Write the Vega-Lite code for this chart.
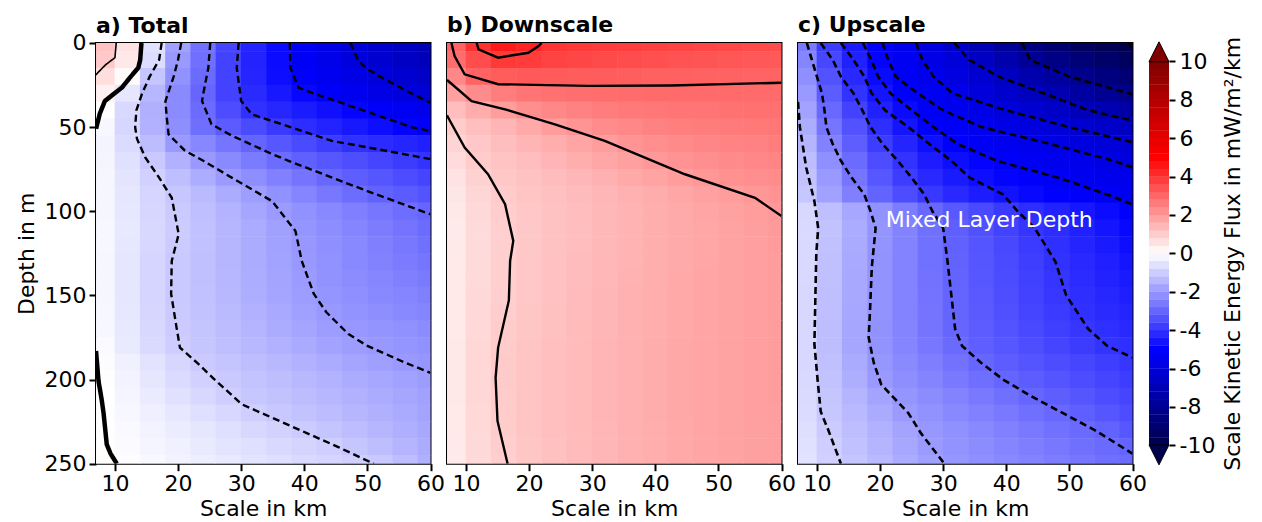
{
"$schema":"https://vega.github.io/schema/vega-lite/v6.json",
"background":"white",
"padding":{"left":14,"top":13,"right":5,"bottom":0},
"bounds":"flush",
"spacing":16,
"config":{
 "font":"DejaVu Sans",
 "view":{"stroke":"black","strokeWidth":2},
 "axis":{"grid":false,"domain":false,"tickColor":"black","tickWidth":2,"tickSize":7,"labelFont":"DejaVu Sans","labelFontSize":22,"labelColor":"black","labelPadding":3,"titleFont":"DejaVu Sans","titleFontSize":22,"titleFontWeight":"normal","titleColor":"black","labelFlush":false,"labelOverlap":false,"titlePadding":4},
 "title":{"font":"DejaVu Sans","fontSize":22,"fontWeight":"bold","anchor":"start","frame":"group","color":"black","offset":6}
},
"datasets":{
"a":[
{"x":8,"y":0,"v":1.2},{"x":12,"y":0,"v":0.55},{"x":16,"y":0,"v":-0.56},{"x":20,"y":0,"v":-1.84},{"x":24,"y":0,"v":-2.76},{"x":28,"y":0,"v":-3.64},{"x":32,"y":0,"v":-4.3},{"x":36,"y":0,"v":-4.79},{"x":40,"y":0,"v":-5.24},{"x":44,"y":0,"v":-5.66},{"x":48,"y":0,"v":-6.06},{"x":52,"y":0,"v":-6.37},{"x":56,"y":0,"v":-6.69},{"x":60,"y":0,"v":-7.0},
{"x":8,"y":10,"v":1.05},{"x":12,"y":10,"v":0.45},{"x":16,"y":10,"v":-0.67},{"x":20,"y":10,"v":-2.0},{"x":24,"y":10,"v":-2.8},{"x":28,"y":10,"v":-3.68},{"x":32,"y":10,"v":-4.31},{"x":36,"y":10,"v":-4.78},{"x":40,"y":10,"v":-5.21},{"x":44,"y":10,"v":-5.61},{"x":48,"y":10,"v":-5.96},{"x":52,"y":10,"v":-6.3},{"x":56,"y":10,"v":-6.65},{"x":60,"y":10,"v":-6.9},
{"x":8,"y":20,"v":0.65},{"x":12,"y":20,"v":0.07},{"x":16,"y":20,"v":-1.13},{"x":20,"y":20,"v":-2.13},{"x":24,"y":20,"v":-2.9},{"x":28,"y":20,"v":-3.7},{"x":32,"y":20,"v":-4.28},{"x":36,"y":20,"v":-4.74},{"x":40,"y":20,"v":-5.12},{"x":44,"y":20,"v":-5.42},{"x":48,"y":20,"v":-5.71},{"x":52,"y":20,"v":-6.0},{"x":56,"y":20,"v":-6.3},{"x":60,"y":20,"v":-6.6},
{"x":8,"y":30,"v":0.27},{"x":12,"y":30,"v":-0.49},{"x":16,"y":30,"v":-1.41},{"x":20,"y":30,"v":-2.29},{"x":24,"y":30,"v":-3.0},{"x":28,"y":30,"v":-3.68},{"x":32,"y":30,"v":-4.18},{"x":36,"y":30,"v":-4.53},{"x":40,"y":30,"v":-4.87},{"x":44,"y":30,"v":-5.16},{"x":48,"y":30,"v":-5.42},{"x":52,"y":30,"v":-5.68},{"x":56,"y":30,"v":-5.94},{"x":60,"y":30,"v":-6.2},
{"x":8,"y":40,"v":0.0},{"x":12,"y":40,"v":-0.74},{"x":16,"y":40,"v":-1.54},{"x":20,"y":40,"v":-2.28},{"x":24,"y":40,"v":-2.91},{"x":28,"y":40,"v":-3.49},{"x":32,"y":40,"v":-4.03},{"x":36,"y":40,"v":-4.25},{"x":40,"y":40,"v":-4.47},{"x":44,"y":40,"v":-4.69},{"x":48,"y":40,"v":-4.92},{"x":52,"y":40,"v":-5.14},{"x":56,"y":40,"v":-5.37},{"x":60,"y":40,"v":-5.6},
{"x":8,"y":50,"v":-0.16},{"x":12,"y":50,"v":-0.81},{"x":16,"y":50,"v":-1.53},{"x":20,"y":50,"v":-2.22},{"x":24,"y":50,"v":-2.82},{"x":28,"y":50,"v":-3.22},{"x":32,"y":50,"v":-3.54},{"x":36,"y":50,"v":-3.86},{"x":40,"y":50,"v":-4.11},{"x":44,"y":50,"v":-4.32},{"x":48,"y":50,"v":-4.53},{"x":52,"y":50,"v":-4.74},{"x":56,"y":50,"v":-4.95},{"x":60,"y":50,"v":-5.15},
{"x":8,"y":60,"v":-0.22},{"x":12,"y":60,"v":-0.7},{"x":16,"y":60,"v":-1.31},{"x":20,"y":60,"v":-2.0},{"x":24,"y":60,"v":-2.35},{"x":28,"y":60,"v":-2.7},{"x":32,"y":60,"v":-3.03},{"x":36,"y":60,"v":-3.29},{"x":40,"y":60,"v":-3.55},{"x":44,"y":60,"v":-3.81},{"x":48,"y":60,"v":-4.03},{"x":52,"y":60,"v":-4.15},{"x":56,"y":60,"v":-4.28},{"x":60,"y":60,"v":-4.4},
{"x":8,"y":70,"v":-0.2},{"x":12,"y":70,"v":-0.6},{"x":16,"y":70,"v":-1.06},{"x":20,"y":70,"v":-1.53},{"x":24,"y":70,"v":-2.0},{"x":28,"y":70,"v":-2.3},{"x":32,"y":70,"v":-2.59},{"x":36,"y":70,"v":-2.89},{"x":40,"y":70,"v":-3.11},{"x":44,"y":70,"v":-3.29},{"x":48,"y":70,"v":-3.47},{"x":52,"y":70,"v":-3.64},{"x":56,"y":70,"v":-3.82},{"x":60,"y":70,"v":-4.0},
{"x":8,"y":80,"v":-0.18},{"x":12,"y":80,"v":-0.53},{"x":16,"y":80,"v":-0.9},{"x":20,"y":80,"v":-1.26},{"x":24,"y":80,"v":-1.61},{"x":28,"y":80,"v":-1.96},{"x":32,"y":80,"v":-2.22},{"x":36,"y":80,"v":-2.47},{"x":40,"y":80,"v":-2.72},{"x":44,"y":80,"v":-2.97},{"x":48,"y":80,"v":-3.15},{"x":52,"y":80,"v":-3.32},{"x":56,"y":80,"v":-3.49},{"x":60,"y":80,"v":-3.65},
{"x":8,"y":90,"v":-0.17},{"x":12,"y":90,"v":-0.5},{"x":16,"y":90,"v":-0.83},{"x":20,"y":90,"v":-1.09},{"x":24,"y":90,"v":-1.36},{"x":28,"y":90,"v":-1.63},{"x":32,"y":90,"v":-1.9},{"x":36,"y":90,"v":-2.15},{"x":40,"y":90,"v":-2.39},{"x":44,"y":90,"v":-2.64},{"x":48,"y":90,"v":-2.88},{"x":52,"y":90,"v":-3.07},{"x":56,"y":90,"v":-3.21},{"x":60,"y":90,"v":-3.35},
{"x":8,"y":100,"v":-0.17},{"x":12,"y":100,"v":-0.48},{"x":16,"y":100,"v":-0.8},{"x":20,"y":100,"v":-1.03},{"x":24,"y":100,"v":-1.26},{"x":28,"y":100,"v":-1.5},{"x":32,"y":100,"v":-1.74},{"x":36,"y":100,"v":-1.97},{"x":40,"y":100,"v":-2.16},{"x":44,"y":100,"v":-2.33},{"x":48,"y":100,"v":-2.51},{"x":52,"y":100,"v":-2.69},{"x":56,"y":100,"v":-2.87},{"x":60,"y":100,"v":-3.0},
{"x":8,"y":110,"v":-0.16},{"x":12,"y":110,"v":-0.46},{"x":16,"y":110,"v":-0.77},{"x":20,"y":110,"v":-1.0},{"x":24,"y":110,"v":-1.22},{"x":28,"y":110,"v":-1.43},{"x":32,"y":110,"v":-1.65},{"x":36,"y":110,"v":-1.87},{"x":40,"y":110,"v":-2.07},{"x":44,"y":110,"v":-2.23},{"x":48,"y":110,"v":-2.4},{"x":52,"y":110,"v":-2.57},{"x":56,"y":110,"v":-2.73},{"x":60,"y":110,"v":-2.9},
{"x":8,"y":120,"v":-0.16},{"x":12,"y":120,"v":-0.47},{"x":16,"y":120,"v":-0.78},{"x":20,"y":120,"v":-1.02},{"x":24,"y":120,"v":-1.22},{"x":28,"y":120,"v":-1.43},{"x":32,"y":120,"v":-1.63},{"x":36,"y":120,"v":-1.84},{"x":40,"y":120,"v":-2.03},{"x":44,"y":120,"v":-2.19},{"x":48,"y":120,"v":-2.34},{"x":52,"y":120,"v":-2.5},{"x":56,"y":120,"v":-2.65},{"x":60,"y":120,"v":-2.8},
{"x":8,"y":130,"v":-0.17},{"x":12,"y":130,"v":-0.5},{"x":16,"y":130,"v":-0.82},{"x":20,"y":130,"v":-1.05},{"x":24,"y":130,"v":-1.24},{"x":28,"y":130,"v":-1.44},{"x":32,"y":130,"v":-1.63},{"x":36,"y":130,"v":-1.83},{"x":40,"y":130,"v":-2.02},{"x":44,"y":130,"v":-2.16},{"x":48,"y":130,"v":-2.31},{"x":52,"y":130,"v":-2.45},{"x":56,"y":130,"v":-2.58},{"x":60,"y":130,"v":-2.7},
{"x":8,"y":140,"v":-0.17},{"x":12,"y":140,"v":-0.5},{"x":16,"y":140,"v":-0.83},{"x":20,"y":140,"v":-1.05},{"x":24,"y":140,"v":-1.24},{"x":28,"y":140,"v":-1.42},{"x":32,"y":140,"v":-1.61},{"x":36,"y":140,"v":-1.79},{"x":40,"y":140,"v":-1.98},{"x":44,"y":140,"v":-2.13},{"x":48,"y":140,"v":-2.26},{"x":52,"y":140,"v":-2.38},{"x":56,"y":140,"v":-2.49},{"x":60,"y":140,"v":-2.6},
{"x":8,"y":150,"v":-0.17},{"x":12,"y":150,"v":-0.5},{"x":16,"y":150,"v":-0.83},{"x":20,"y":150,"v":-1.05},{"x":24,"y":150,"v":-1.22},{"x":28,"y":150,"v":-1.4},{"x":32,"y":150,"v":-1.58},{"x":36,"y":150,"v":-1.76},{"x":40,"y":150,"v":-1.93},{"x":44,"y":150,"v":-2.08},{"x":48,"y":150,"v":-2.2},{"x":52,"y":150,"v":-2.31},{"x":56,"y":150,"v":-2.4},{"x":60,"y":150,"v":-2.5},
{"x":8,"y":160,"v":-0.16},{"x":12,"y":160,"v":-0.48},{"x":16,"y":160,"v":-0.8},{"x":20,"y":160,"v":-1.03},{"x":24,"y":160,"v":-1.2},{"x":28,"y":160,"v":-1.36},{"x":32,"y":160,"v":-1.53},{"x":36,"y":160,"v":-1.69},{"x":40,"y":160,"v":-1.86},{"x":44,"y":160,"v":-2.02},{"x":48,"y":160,"v":-2.12},{"x":52,"y":160,"v":-2.22},{"x":56,"y":160,"v":-2.31},{"x":60,"y":160,"v":-2.4},
{"x":8,"y":170,"v":-0.15},{"x":12,"y":170,"v":-0.45},{"x":16,"y":170,"v":-0.76},{"x":20,"y":170,"v":-1.01},{"x":24,"y":170,"v":-1.16},{"x":28,"y":170,"v":-1.31},{"x":32,"y":170,"v":-1.47},{"x":36,"y":170,"v":-1.62},{"x":40,"y":170,"v":-1.77},{"x":44,"y":170,"v":-1.92},{"x":48,"y":170,"v":-2.03},{"x":52,"y":170,"v":-2.1},{"x":56,"y":170,"v":-2.18},{"x":60,"y":170,"v":-2.25},
{"x":8,"y":180,"v":-0.1},{"x":12,"y":180,"v":-0.42},{"x":16,"y":180,"v":-0.72},{"x":20,"y":180,"v":-0.98},{"x":24,"y":180,"v":-1.12},{"x":28,"y":180,"v":-1.26},{"x":32,"y":180,"v":-1.39},{"x":36,"y":180,"v":-1.53},{"x":40,"y":180,"v":-1.66},{"x":44,"y":180,"v":-1.8},{"x":48,"y":180,"v":-1.93},{"x":52,"y":180,"v":-2.02},{"x":56,"y":180,"v":-2.08},{"x":60,"y":180,"v":-2.15},
{"x":8,"y":190,"v":-0.05},{"x":12,"y":190,"v":-0.3},{"x":16,"y":190,"v":-0.55},{"x":20,"y":190,"v":-0.8},{"x":24,"y":190,"v":-1.03},{"x":28,"y":190,"v":-1.15},{"x":32,"y":190,"v":-1.27},{"x":36,"y":190,"v":-1.39},{"x":40,"y":190,"v":-1.52},{"x":44,"y":190,"v":-1.64},{"x":48,"y":190,"v":-1.76},{"x":52,"y":190,"v":-1.88},{"x":56,"y":190,"v":-2.0},{"x":60,"y":190,"v":-2.05},
{"x":8,"y":200,"v":-0.02},{"x":12,"y":200,"v":-0.24},{"x":16,"y":200,"v":-0.5},{"x":20,"y":200,"v":-0.7},{"x":24,"y":200,"v":-0.9},{"x":28,"y":200,"v":-1.06},{"x":32,"y":200,"v":-1.17},{"x":36,"y":200,"v":-1.28},{"x":40,"y":200,"v":-1.39},{"x":44,"y":200,"v":-1.51},{"x":48,"y":200,"v":-1.62},{"x":52,"y":200,"v":-1.73},{"x":56,"y":200,"v":-1.84},{"x":60,"y":200,"v":-1.95},
{"x":8,"y":210,"v":0.0},{"x":12,"y":210,"v":-0.2},{"x":16,"y":210,"v":-0.39},{"x":20,"y":210,"v":-0.58},{"x":24,"y":210,"v":-0.77},{"x":28,"y":210,"v":-0.97},{"x":32,"y":210,"v":-1.09},{"x":36,"y":210,"v":-1.2},{"x":40,"y":210,"v":-1.31},{"x":44,"y":210,"v":-1.42},{"x":48,"y":210,"v":-1.52},{"x":52,"y":210,"v":-1.63},{"x":56,"y":210,"v":-1.74},{"x":60,"y":210,"v":-1.85},
{"x":8,"y":220,"v":0.01},{"x":12,"y":220,"v":-0.15},{"x":16,"y":220,"v":-0.31},{"x":20,"y":220,"v":-0.47},{"x":24,"y":220,"v":-0.63},{"x":28,"y":220,"v":-0.79},{"x":32,"y":220,"v":-0.95},{"x":36,"y":220,"v":-1.08},{"x":40,"y":220,"v":-1.2},{"x":44,"y":220,"v":-1.31},{"x":48,"y":220,"v":-1.43},{"x":52,"y":220,"v":-1.55},{"x":56,"y":220,"v":-1.66},{"x":60,"y":220,"v":-1.78},
{"x":8,"y":230,"v":0.02},{"x":12,"y":230,"v":-0.11},{"x":16,"y":230,"v":-0.24},{"x":20,"y":230,"v":-0.37},{"x":24,"y":230,"v":-0.5},{"x":28,"y":230,"v":-0.63},{"x":32,"y":230,"v":-0.76},{"x":36,"y":230,"v":-0.89},{"x":40,"y":230,"v":-1.02},{"x":44,"y":230,"v":-1.16},{"x":48,"y":230,"v":-1.29},{"x":52,"y":230,"v":-1.43},{"x":56,"y":230,"v":-1.56},{"x":60,"y":230,"v":-1.7},
{"x":8,"y":240,"v":0.04},{"x":12,"y":240,"v":-0.07},{"x":16,"y":240,"v":-0.19},{"x":20,"y":240,"v":-0.3},{"x":24,"y":240,"v":-0.41},{"x":28,"y":240,"v":-0.52},{"x":32,"y":240,"v":-0.63},{"x":36,"y":240,"v":-0.74},{"x":40,"y":240,"v":-0.85},{"x":44,"y":240,"v":-0.96},{"x":48,"y":240,"v":-1.11},{"x":52,"y":240,"v":-1.28},{"x":56,"y":240,"v":-1.45},{"x":60,"y":240,"v":-1.63},
{"x":8,"y":250,"v":0.05},{"x":12,"y":250,"v":-0.04},{"x":16,"y":250,"v":-0.14},{"x":20,"y":250,"v":-0.24},{"x":24,"y":250,"v":-0.34},{"x":28,"y":250,"v":-0.43},{"x":32,"y":250,"v":-0.53},{"x":36,"y":250,"v":-0.63},{"x":40,"y":250,"v":-0.73},{"x":44,"y":250,"v":-0.83},{"x":48,"y":250,"v":-0.93},{"x":52,"y":250,"v":-1.05},{"x":56,"y":250,"v":-1.3},{"x":60,"y":250,"v":-1.55}
],
"b":[
{"x":8,"y":0,"v":3.05},{"x":12,"y":0,"v":4.02},{"x":16,"y":0,"v":4.5},{"x":20,"y":0,"v":4.3},{"x":24,"y":0,"v":3.97},{"x":28,"y":0,"v":3.9},{"x":32,"y":0,"v":3.85},{"x":36,"y":0,"v":3.8},{"x":40,"y":0,"v":3.75},{"x":44,"y":0,"v":3.7},{"x":48,"y":0,"v":3.65},{"x":52,"y":0,"v":3.6},{"x":56,"y":0,"v":3.55},{"x":60,"y":0,"v":3.5},
{"x":8,"y":10,"v":2.85},{"x":12,"y":10,"v":3.5},{"x":16,"y":10,"v":3.9},{"x":20,"y":10,"v":3.85},{"x":24,"y":10,"v":3.7},{"x":28,"y":10,"v":3.62},{"x":32,"y":10,"v":3.55},{"x":36,"y":10,"v":3.5},{"x":40,"y":10,"v":3.45},{"x":44,"y":10,"v":3.4},{"x":48,"y":10,"v":3.35},{"x":52,"y":10,"v":3.32},{"x":56,"y":10,"v":3.28},{"x":60,"y":10,"v":3.25},
{"x":8,"y":20,"v":2.35},{"x":12,"y":20,"v":3.05},{"x":16,"y":20,"v":3.2},{"x":20,"y":20,"v":3.25},{"x":24,"y":20,"v":3.22},{"x":28,"y":20,"v":3.2},{"x":32,"y":20,"v":3.17},{"x":36,"y":20,"v":3.15},{"x":40,"y":20,"v":3.12},{"x":44,"y":20,"v":3.1},{"x":48,"y":20,"v":3.08},{"x":52,"y":20,"v":3.07},{"x":56,"y":20,"v":3.06},{"x":60,"y":20,"v":3.05},
{"x":8,"y":30,"v":1.85},{"x":12,"y":30,"v":2.25},{"x":16,"y":30,"v":2.55},{"x":20,"y":30,"v":2.73},{"x":24,"y":30,"v":2.8},{"x":28,"y":30,"v":2.84},{"x":32,"y":30,"v":2.87},{"x":36,"y":30,"v":2.89},{"x":40,"y":30,"v":2.9},{"x":44,"y":30,"v":2.91},{"x":48,"y":30,"v":2.91},{"x":52,"y":30,"v":2.92},{"x":56,"y":30,"v":2.92},{"x":60,"y":30,"v":2.92},
{"x":8,"y":40,"v":1.3},{"x":12,"y":40,"v":1.62},{"x":16,"y":40,"v":1.95},{"x":20,"y":40,"v":2.2},{"x":24,"y":40,"v":2.36},{"x":28,"y":40,"v":2.46},{"x":32,"y":40,"v":2.55},{"x":36,"y":40,"v":2.62},{"x":40,"y":40,"v":2.67},{"x":44,"y":40,"v":2.71},{"x":48,"y":40,"v":2.73},{"x":52,"y":40,"v":2.76},{"x":56,"y":40,"v":2.78},{"x":60,"y":40,"v":2.79},
{"x":8,"y":50,"v":1.0},{"x":12,"y":50,"v":1.25},{"x":16,"y":50,"v":1.46},{"x":20,"y":50,"v":1.69},{"x":24,"y":50,"v":1.92},{"x":28,"y":50,"v":2.1},{"x":32,"y":50,"v":2.25},{"x":36,"y":50,"v":2.36},{"x":40,"y":50,"v":2.45},{"x":44,"y":50,"v":2.52},{"x":48,"y":50,"v":2.56},{"x":52,"y":50,"v":2.6},{"x":56,"y":50,"v":2.62},{"x":60,"y":50,"v":2.68},
{"x":8,"y":60,"v":0.85},{"x":12,"y":60,"v":1.1},{"x":16,"y":60,"v":1.27},{"x":20,"y":60,"v":1.45},{"x":24,"y":60,"v":1.61},{"x":28,"y":60,"v":1.77},{"x":32,"y":60,"v":1.95},{"x":36,"y":60,"v":2.1},{"x":40,"y":60,"v":2.2},{"x":44,"y":60,"v":2.3},{"x":48,"y":60,"v":2.38},{"x":52,"y":60,"v":2.43},{"x":56,"y":60,"v":2.48},{"x":60,"y":60,"v":2.54},
{"x":8,"y":70,"v":0.7},{"x":12,"y":70,"v":1.02},{"x":16,"y":70,"v":1.17},{"x":20,"y":70,"v":1.3},{"x":24,"y":70,"v":1.45},{"x":28,"y":70,"v":1.58},{"x":32,"y":70,"v":1.72},{"x":36,"y":70,"v":1.87},{"x":40,"y":70,"v":2.02},{"x":44,"y":70,"v":2.12},{"x":48,"y":70,"v":2.22},{"x":52,"y":70,"v":2.3},{"x":56,"y":70,"v":2.35},{"x":60,"y":70,"v":2.4},
{"x":8,"y":80,"v":0.57},{"x":12,"y":80,"v":0.88},{"x":16,"y":80,"v":1.07},{"x":20,"y":80,"v":1.19},{"x":24,"y":80,"v":1.31},{"x":28,"y":80,"v":1.43},{"x":32,"y":80,"v":1.55},{"x":36,"y":80,"v":1.68},{"x":40,"y":80,"v":1.8},{"x":44,"y":80,"v":1.93},{"x":48,"y":80,"v":2.04},{"x":52,"y":80,"v":2.15},{"x":56,"y":80,"v":2.22},{"x":60,"y":80,"v":2.28},
{"x":8,"y":90,"v":0.5},{"x":12,"y":90,"v":0.8},{"x":16,"y":90,"v":1.02},{"x":20,"y":90,"v":1.13},{"x":24,"y":90,"v":1.23},{"x":28,"y":90,"v":1.33},{"x":32,"y":90,"v":1.43},{"x":36,"y":90,"v":1.53},{"x":40,"y":90,"v":1.63},{"x":44,"y":90,"v":1.74},{"x":48,"y":90,"v":1.84},{"x":52,"y":90,"v":1.94},{"x":56,"y":90,"v":2.04},{"x":60,"y":90,"v":2.12},
{"x":8,"y":100,"v":0.45},{"x":12,"y":100,"v":0.75},{"x":16,"y":100,"v":0.98},{"x":20,"y":100,"v":1.1},{"x":24,"y":100,"v":1.2},{"x":28,"y":100,"v":1.3},{"x":32,"y":100,"v":1.4},{"x":36,"y":100,"v":1.49},{"x":40,"y":100,"v":1.58},{"x":44,"y":100,"v":1.67},{"x":48,"y":100,"v":1.76},{"x":52,"y":100,"v":1.85},{"x":56,"y":100,"v":1.94},{"x":60,"y":100,"v":2.02},
{"x":8,"y":110,"v":0.42},{"x":12,"y":110,"v":0.72},{"x":16,"y":110,"v":0.95},{"x":20,"y":110,"v":1.08},{"x":24,"y":110,"v":1.2},{"x":28,"y":110,"v":1.3},{"x":32,"y":110,"v":1.4},{"x":36,"y":110,"v":1.5},{"x":40,"y":110,"v":1.58},{"x":44,"y":110,"v":1.67},{"x":48,"y":110,"v":1.75},{"x":52,"y":110,"v":1.83},{"x":56,"y":110,"v":1.91},{"x":60,"y":110,"v":1.98},
{"x":8,"y":120,"v":0.42},{"x":12,"y":120,"v":0.72},{"x":16,"y":120,"v":0.95},{"x":20,"y":120,"v":1.08},{"x":24,"y":120,"v":1.2},{"x":28,"y":120,"v":1.3},{"x":32,"y":120,"v":1.4},{"x":36,"y":120,"v":1.5},{"x":40,"y":120,"v":1.58},{"x":44,"y":120,"v":1.67},{"x":48,"y":120,"v":1.75},{"x":52,"y":120,"v":1.82},{"x":56,"y":120,"v":1.89},{"x":60,"y":120,"v":1.96},
{"x":8,"y":130,"v":0.42},{"x":12,"y":130,"v":0.72},{"x":16,"y":130,"v":0.96},{"x":20,"y":130,"v":1.09},{"x":24,"y":130,"v":1.21},{"x":28,"y":130,"v":1.31},{"x":32,"y":130,"v":1.41},{"x":36,"y":130,"v":1.5},{"x":40,"y":130,"v":1.59},{"x":44,"y":130,"v":1.67},{"x":48,"y":130,"v":1.75},{"x":52,"y":130,"v":1.82},{"x":56,"y":130,"v":1.89},{"x":60,"y":130,"v":1.95},
{"x":8,"y":140,"v":0.43},{"x":12,"y":140,"v":0.73},{"x":16,"y":140,"v":0.96},{"x":20,"y":140,"v":1.09},{"x":24,"y":140,"v":1.21},{"x":28,"y":140,"v":1.32},{"x":32,"y":140,"v":1.42},{"x":36,"y":140,"v":1.51},{"x":40,"y":140,"v":1.59},{"x":44,"y":140,"v":1.68},{"x":48,"y":140,"v":1.76},{"x":52,"y":140,"v":1.83},{"x":56,"y":140,"v":1.89},{"x":60,"y":140,"v":1.95},
{"x":8,"y":150,"v":0.43},{"x":12,"y":150,"v":0.74},{"x":16,"y":150,"v":0.97},{"x":20,"y":150,"v":1.1},{"x":24,"y":150,"v":1.22},{"x":28,"y":150,"v":1.33},{"x":32,"y":150,"v":1.43},{"x":36,"y":150,"v":1.52},{"x":40,"y":150,"v":1.6},{"x":44,"y":150,"v":1.68},{"x":48,"y":150,"v":1.76},{"x":52,"y":150,"v":1.83},{"x":56,"y":150,"v":1.89},{"x":60,"y":150,"v":1.94},
{"x":8,"y":160,"v":0.43},{"x":12,"y":160,"v":0.75},{"x":16,"y":160,"v":0.98},{"x":20,"y":160,"v":1.11},{"x":24,"y":160,"v":1.23},{"x":28,"y":160,"v":1.34},{"x":32,"y":160,"v":1.44},{"x":36,"y":160,"v":1.53},{"x":40,"y":160,"v":1.61},{"x":44,"y":160,"v":1.69},{"x":48,"y":160,"v":1.76},{"x":52,"y":160,"v":1.83},{"x":56,"y":160,"v":1.89},{"x":60,"y":160,"v":1.94},
{"x":8,"y":170,"v":0.44},{"x":12,"y":170,"v":0.76},{"x":16,"y":170,"v":1.0},{"x":20,"y":170,"v":1.12},{"x":24,"y":170,"v":1.24},{"x":28,"y":170,"v":1.35},{"x":32,"y":170,"v":1.44},{"x":36,"y":170,"v":1.53},{"x":40,"y":170,"v":1.61},{"x":44,"y":170,"v":1.69},{"x":48,"y":170,"v":1.77},{"x":52,"y":170,"v":1.83},{"x":56,"y":170,"v":1.88},{"x":60,"y":170,"v":1.93},
{"x":8,"y":180,"v":0.45},{"x":12,"y":180,"v":0.78},{"x":16,"y":180,"v":1.02},{"x":20,"y":180,"v":1.14},{"x":24,"y":180,"v":1.25},{"x":28,"y":180,"v":1.36},{"x":32,"y":180,"v":1.45},{"x":36,"y":180,"v":1.54},{"x":40,"y":180,"v":1.62},{"x":44,"y":180,"v":1.7},{"x":48,"y":180,"v":1.77},{"x":52,"y":180,"v":1.83},{"x":56,"y":180,"v":1.88},{"x":60,"y":180,"v":1.92},
{"x":8,"y":190,"v":0.45},{"x":12,"y":190,"v":0.78},{"x":16,"y":190,"v":1.03},{"x":20,"y":190,"v":1.15},{"x":24,"y":190,"v":1.26},{"x":28,"y":190,"v":1.36},{"x":32,"y":190,"v":1.45},{"x":36,"y":190,"v":1.54},{"x":40,"y":190,"v":1.62},{"x":44,"y":190,"v":1.7},{"x":48,"y":190,"v":1.77},{"x":52,"y":190,"v":1.83},{"x":56,"y":190,"v":1.88},{"x":60,"y":190,"v":1.92},
{"x":8,"y":200,"v":0.45},{"x":12,"y":200,"v":0.79},{"x":16,"y":200,"v":1.03},{"x":20,"y":200,"v":1.15},{"x":24,"y":200,"v":1.26},{"x":28,"y":200,"v":1.36},{"x":32,"y":200,"v":1.45},{"x":36,"y":200,"v":1.54},{"x":40,"y":200,"v":1.62},{"x":44,"y":200,"v":1.7},{"x":48,"y":200,"v":1.77},{"x":52,"y":200,"v":1.83},{"x":56,"y":200,"v":1.88},{"x":60,"y":200,"v":1.92},
{"x":8,"y":210,"v":0.45},{"x":12,"y":210,"v":0.78},{"x":16,"y":210,"v":1.02},{"x":20,"y":210,"v":1.14},{"x":24,"y":210,"v":1.25},{"x":28,"y":210,"v":1.36},{"x":32,"y":210,"v":1.45},{"x":36,"y":210,"v":1.54},{"x":40,"y":210,"v":1.62},{"x":44,"y":210,"v":1.7},{"x":48,"y":210,"v":1.77},{"x":52,"y":210,"v":1.83},{"x":56,"y":210,"v":1.88},{"x":60,"y":210,"v":1.92},
{"x":8,"y":220,"v":0.44},{"x":12,"y":220,"v":0.77},{"x":16,"y":220,"v":1.01},{"x":20,"y":220,"v":1.14},{"x":24,"y":220,"v":1.25},{"x":28,"y":220,"v":1.36},{"x":32,"y":220,"v":1.45},{"x":36,"y":220,"v":1.54},{"x":40,"y":220,"v":1.62},{"x":44,"y":220,"v":1.7},{"x":48,"y":220,"v":1.77},{"x":52,"y":220,"v":1.83},{"x":56,"y":220,"v":1.88},{"x":60,"y":220,"v":1.91},
{"x":8,"y":230,"v":0.43},{"x":12,"y":230,"v":0.76},{"x":16,"y":230,"v":1.0},{"x":20,"y":230,"v":1.13},{"x":24,"y":230,"v":1.25},{"x":28,"y":230,"v":1.35},{"x":32,"y":230,"v":1.44},{"x":36,"y":230,"v":1.53},{"x":40,"y":230,"v":1.61},{"x":44,"y":230,"v":1.69},{"x":48,"y":230,"v":1.76},{"x":52,"y":230,"v":1.82},{"x":56,"y":230,"v":1.87},{"x":60,"y":230,"v":1.91},
{"x":8,"y":240,"v":0.42},{"x":12,"y":240,"v":0.74},{"x":16,"y":240,"v":0.98},{"x":20,"y":240,"v":1.12},{"x":24,"y":240,"v":1.24},{"x":28,"y":240,"v":1.35},{"x":32,"y":240,"v":1.44},{"x":36,"y":240,"v":1.53},{"x":40,"y":240,"v":1.61},{"x":44,"y":240,"v":1.69},{"x":48,"y":240,"v":1.76},{"x":52,"y":240,"v":1.82},{"x":56,"y":240,"v":1.87},{"x":60,"y":240,"v":1.9},
{"x":8,"y":250,"v":0.4},{"x":12,"y":250,"v":0.72},{"x":16,"y":250,"v":0.96},{"x":20,"y":250,"v":1.11},{"x":24,"y":250,"v":1.23},{"x":28,"y":250,"v":1.34},{"x":32,"y":250,"v":1.43},{"x":36,"y":250,"v":1.52},{"x":40,"y":250,"v":1.6},{"x":44,"y":250,"v":1.68},{"x":48,"y":250,"v":1.75},{"x":52,"y":250,"v":1.81},{"x":56,"y":250,"v":1.86},{"x":60,"y":250,"v":1.89}
],
"c":[
{"x":8,"y":0,"v":-2.6},{"x":12,"y":0,"v":-3.8},{"x":16,"y":0,"v":-4.5},{"x":20,"y":0,"v":-5.1},{"x":24,"y":0,"v":-5.5},{"x":28,"y":0,"v":-5.85},{"x":32,"y":0,"v":-6.4},{"x":36,"y":0,"v":-7.1},{"x":40,"y":0,"v":-7.8},{"x":44,"y":0,"v":-8.5},{"x":48,"y":0,"v":-9.0},{"x":52,"y":0,"v":-9.4},{"x":56,"y":0,"v":-9.75},{"x":60,"y":0,"v":-10.0},
{"x":8,"y":10,"v":-2.4},{"x":12,"y":10,"v":-3.6},{"x":16,"y":10,"v":-4.35},{"x":20,"y":10,"v":-4.95},{"x":24,"y":10,"v":-5.35},{"x":28,"y":10,"v":-5.7},{"x":32,"y":10,"v":-6.1},{"x":36,"y":10,"v":-6.7},{"x":40,"y":10,"v":-7.3},{"x":44,"y":10,"v":-7.9},{"x":48,"y":10,"v":-8.4},{"x":52,"y":10,"v":-8.8},{"x":56,"y":10,"v":-9.2},{"x":60,"y":10,"v":-9.5},
{"x":8,"y":20,"v":-2.2},{"x":12,"y":20,"v":-3.4},{"x":16,"y":20,"v":-4.2},{"x":20,"y":20,"v":-4.8},{"x":24,"y":20,"v":-5.2},{"x":28,"y":20,"v":-5.5},{"x":32,"y":20,"v":-5.85},{"x":36,"y":20,"v":-6.3},{"x":40,"y":20,"v":-6.8},{"x":44,"y":20,"v":-7.3},{"x":48,"y":20,"v":-7.75},{"x":52,"y":20,"v":-8.2},{"x":56,"y":20,"v":-8.6},{"x":60,"y":20,"v":-8.9},
{"x":8,"y":30,"v":-2.0},{"x":12,"y":30,"v":-3.2},{"x":16,"y":30,"v":-4.0},{"x":20,"y":30,"v":-4.6},{"x":24,"y":30,"v":-5.0},{"x":28,"y":30,"v":-5.3},{"x":32,"y":30,"v":-5.6},{"x":36,"y":30,"v":-6.0},{"x":40,"y":30,"v":-6.4},{"x":44,"y":30,"v":-6.8},{"x":48,"y":30,"v":-7.2},{"x":52,"y":30,"v":-7.6},{"x":56,"y":30,"v":-8.0},{"x":60,"y":30,"v":-8.3},
{"x":8,"y":40,"v":-1.8},{"x":12,"y":40,"v":-2.95},{"x":16,"y":40,"v":-3.7},{"x":20,"y":40,"v":-4.35},{"x":24,"y":40,"v":-4.8},{"x":28,"y":40,"v":-5.15},{"x":32,"y":40,"v":-5.4},{"x":36,"y":40,"v":-5.7},{"x":40,"y":40,"v":-6.0},{"x":44,"y":40,"v":-6.3},{"x":48,"y":40,"v":-6.6},{"x":52,"y":40,"v":-6.9},{"x":56,"y":40,"v":-7.2},{"x":60,"y":40,"v":-7.5},
{"x":8,"y":50,"v":-1.6},{"x":12,"y":50,"v":-2.7},{"x":16,"y":50,"v":-3.4},{"x":20,"y":50,"v":-4.1},{"x":24,"y":50,"v":-4.6},{"x":28,"y":50,"v":-5.0},{"x":32,"y":50,"v":-5.2},{"x":36,"y":50,"v":-5.45},{"x":40,"y":50,"v":-5.7},{"x":44,"y":50,"v":-5.9},{"x":48,"y":50,"v":-6.1},{"x":52,"y":50,"v":-6.3},{"x":56,"y":50,"v":-6.5},{"x":60,"y":50,"v":-6.7},
{"x":8,"y":60,"v":-1.45},{"x":12,"y":60,"v":-2.45},{"x":16,"y":60,"v":-3.15},{"x":20,"y":60,"v":-3.8},{"x":24,"y":60,"v":-4.3},{"x":28,"y":60,"v":-4.7},{"x":32,"y":60,"v":-5.0},{"x":36,"y":60,"v":-5.2},{"x":40,"y":60,"v":-5.4},{"x":44,"y":60,"v":-5.6},{"x":48,"y":60,"v":-5.75},{"x":52,"y":60,"v":-5.9},{"x":56,"y":60,"v":-6.05},{"x":60,"y":60,"v":-6.2},
{"x":8,"y":70,"v":-1.3},{"x":12,"y":70,"v":-2.2},{"x":16,"y":70,"v":-2.9},{"x":20,"y":70,"v":-3.5},{"x":24,"y":70,"v":-4.0},{"x":28,"y":70,"v":-4.45},{"x":32,"y":70,"v":-4.75},{"x":36,"y":70,"v":-4.95},{"x":40,"y":70,"v":-5.15},{"x":44,"y":70,"v":-5.3},{"x":48,"y":70,"v":-5.45},{"x":52,"y":70,"v":-5.6},{"x":56,"y":70,"v":-5.75},{"x":60,"y":70,"v":-5.9},
{"x":8,"y":80,"v":-1.2},{"x":12,"y":80,"v":-2.0},{"x":16,"y":80,"v":-2.7},{"x":20,"y":80,"v":-3.3},{"x":24,"y":80,"v":-3.8},{"x":28,"y":80,"v":-4.2},{"x":32,"y":80,"v":-4.5},{"x":36,"y":80,"v":-4.75},{"x":40,"y":80,"v":-4.95},{"x":44,"y":80,"v":-5.1},{"x":48,"y":80,"v":-5.25},{"x":52,"y":80,"v":-5.4},{"x":56,"y":80,"v":-5.5},{"x":60,"y":80,"v":-5.6},
{"x":8,"y":90,"v":-1.1},{"x":12,"y":90,"v":-1.85},{"x":16,"y":90,"v":-2.5},{"x":20,"y":90,"v":-3.05},{"x":24,"y":90,"v":-3.5},{"x":28,"y":90,"v":-3.9},{"x":32,"y":90,"v":-4.2},{"x":36,"y":90,"v":-4.45},{"x":40,"y":90,"v":-4.65},{"x":44,"y":90,"v":-4.85},{"x":48,"y":90,"v":-5.0},{"x":52,"y":90,"v":-5.15},{"x":56,"y":90,"v":-5.3},{"x":60,"y":90,"v":-5.4},
{"x":8,"y":100,"v":-0.78},{"x":12,"y":100,"v":-1.26},{"x":16,"y":100,"v":-1.72},{"x":20,"y":100,"v":-2.15},{"x":24,"y":100,"v":-2.56},{"x":28,"y":100,"v":-2.97},{"x":32,"y":100,"v":-3.27},{"x":36,"y":100,"v":-3.57},{"x":40,"y":100,"v":-3.87},{"x":44,"y":100,"v":-4.12},{"x":48,"y":100,"v":-4.34},{"x":52,"y":100,"v":-4.56},{"x":56,"y":100,"v":-4.78},{"x":60,"y":100,"v":-5.0},
{"x":8,"y":110,"v":-0.74},{"x":12,"y":110,"v":-1.2},{"x":16,"y":110,"v":-1.64},{"x":20,"y":110,"v":-2.07},{"x":24,"y":110,"v":-2.44},{"x":28,"y":110,"v":-2.81},{"x":32,"y":110,"v":-3.14},{"x":36,"y":110,"v":-3.41},{"x":40,"y":110,"v":-3.69},{"x":44,"y":110,"v":-3.97},{"x":48,"y":110,"v":-4.11},{"x":52,"y":110,"v":-4.35},{"x":56,"y":110,"v":-4.6},{"x":60,"y":110,"v":-4.85},
{"x":8,"y":120,"v":-0.74},{"x":12,"y":120,"v":-1.21},{"x":16,"y":120,"v":-1.67},{"x":20,"y":120,"v":-2.09},{"x":24,"y":120,"v":-2.43},{"x":28,"y":120,"v":-2.78},{"x":32,"y":120,"v":-3.09},{"x":36,"y":120,"v":-3.34},{"x":40,"y":120,"v":-3.59},{"x":44,"y":120,"v":-3.84},{"x":48,"y":120,"v":-4.07},{"x":52,"y":120,"v":-4.29},{"x":56,"y":120,"v":-4.5},{"x":60,"y":120,"v":-4.72},
{"x":8,"y":130,"v":-0.74},{"x":12,"y":130,"v":-1.23},{"x":16,"y":130,"v":-1.69},{"x":20,"y":130,"v":-2.11},{"x":24,"y":130,"v":-2.44},{"x":28,"y":130,"v":-2.78},{"x":32,"y":130,"v":-3.08},{"x":36,"y":130,"v":-3.31},{"x":40,"y":130,"v":-3.54},{"x":44,"y":130,"v":-3.78},{"x":48,"y":130,"v":-4.01},{"x":52,"y":130,"v":-4.2},{"x":56,"y":130,"v":-4.4},{"x":60,"y":130,"v":-4.6},
{"x":8,"y":140,"v":-0.75},{"x":12,"y":140,"v":-1.24},{"x":16,"y":140,"v":-1.7},{"x":20,"y":140,"v":-2.11},{"x":24,"y":140,"v":-2.43},{"x":28,"y":140,"v":-2.76},{"x":32,"y":140,"v":-3.06},{"x":36,"y":140,"v":-3.29},{"x":40,"y":140,"v":-3.51},{"x":44,"y":140,"v":-3.74},{"x":48,"y":140,"v":-3.97},{"x":52,"y":140,"v":-4.15},{"x":56,"y":140,"v":-4.33},{"x":60,"y":140,"v":-4.5},
{"x":8,"y":150,"v":-0.76},{"x":12,"y":150,"v":-1.25},{"x":16,"y":150,"v":-1.71},{"x":20,"y":150,"v":-2.12},{"x":24,"y":150,"v":-2.43},{"x":28,"y":150,"v":-2.74},{"x":32,"y":150,"v":-3.04},{"x":36,"y":150,"v":-3.26},{"x":40,"y":150,"v":-3.48},{"x":44,"y":150,"v":-3.7},{"x":48,"y":150,"v":-3.92},{"x":52,"y":150,"v":-4.1},{"x":56,"y":150,"v":-4.26},{"x":60,"y":150,"v":-4.42},
{"x":8,"y":160,"v":-0.77},{"x":12,"y":160,"v":-1.26},{"x":16,"y":160,"v":-1.72},{"x":20,"y":160,"v":-2.12},{"x":24,"y":160,"v":-2.43},{"x":28,"y":160,"v":-2.73},{"x":32,"y":160,"v":-3.03},{"x":36,"y":160,"v":-3.23},{"x":40,"y":160,"v":-3.44},{"x":44,"y":160,"v":-3.64},{"x":48,"y":160,"v":-3.85},{"x":52,"y":160,"v":-4.05},{"x":56,"y":160,"v":-4.17},{"x":60,"y":160,"v":-4.3},
{"x":8,"y":170,"v":-0.77},{"x":12,"y":170,"v":-1.28},{"x":16,"y":170,"v":-1.74},{"x":20,"y":170,"v":-2.13},{"x":24,"y":170,"v":-2.42},{"x":28,"y":170,"v":-2.72},{"x":32,"y":170,"v":-3.0},{"x":36,"y":170,"v":-3.19},{"x":40,"y":170,"v":-3.38},{"x":44,"y":170,"v":-3.57},{"x":48,"y":170,"v":-3.76},{"x":52,"y":170,"v":-3.95},{"x":56,"y":170,"v":-4.08},{"x":60,"y":170,"v":-4.2},
{"x":8,"y":180,"v":-0.78},{"x":12,"y":180,"v":-1.28},{"x":16,"y":180,"v":-1.74},{"x":20,"y":180,"v":-2.12},{"x":24,"y":180,"v":-2.39},{"x":28,"y":180,"v":-2.66},{"x":32,"y":180,"v":-2.93},{"x":36,"y":180,"v":-3.13},{"x":40,"y":180,"v":-3.3},{"x":44,"y":180,"v":-3.48},{"x":48,"y":180,"v":-3.65},{"x":52,"y":180,"v":-3.83},{"x":56,"y":180,"v":-4.0},{"x":60,"y":180,"v":-4.08},
{"x":8,"y":190,"v":-0.78},{"x":12,"y":190,"v":-1.24},{"x":16,"y":190,"v":-1.67},{"x":20,"y":190,"v":-2.06},{"x":24,"y":190,"v":-2.29},{"x":28,"y":190,"v":-2.53},{"x":32,"y":190,"v":-2.76},{"x":36,"y":190,"v":-3.0},{"x":40,"y":190,"v":-3.17},{"x":44,"y":190,"v":-3.33},{"x":48,"y":190,"v":-3.5},{"x":52,"y":190,"v":-3.62},{"x":56,"y":190,"v":-3.79},{"x":60,"y":190,"v":-3.95},
{"x":8,"y":200,"v":-0.75},{"x":12,"y":200,"v":-1.19},{"x":16,"y":200,"v":-1.59},{"x":20,"y":200,"v":-2.0},{"x":24,"y":200,"v":-2.21},{"x":28,"y":200,"v":-2.41},{"x":32,"y":200,"v":-2.62},{"x":36,"y":200,"v":-2.82},{"x":40,"y":200,"v":-3.02},{"x":44,"y":200,"v":-3.18},{"x":48,"y":200,"v":-3.33},{"x":52,"y":200,"v":-3.49},{"x":56,"y":200,"v":-3.65},{"x":60,"y":200,"v":-3.8},
{"x":8,"y":210,"v":-0.73},{"x":12,"y":210,"v":-1.13},{"x":16,"y":210,"v":-1.46},{"x":20,"y":210,"v":-1.79},{"x":24,"y":210,"v":-2.07},{"x":28,"y":210,"v":-2.26},{"x":32,"y":210,"v":-2.44},{"x":36,"y":210,"v":-2.63},{"x":40,"y":210,"v":-2.81},{"x":44,"y":210,"v":-3.0},{"x":48,"y":210,"v":-3.16},{"x":52,"y":210,"v":-3.32},{"x":56,"y":210,"v":-3.49},{"x":60,"y":210,"v":-3.65},
{"x":8,"y":220,"v":-0.7},{"x":12,"y":220,"v":-1.09},{"x":16,"y":220,"v":-1.38},{"x":20,"y":220,"v":-1.67},{"x":24,"y":220,"v":-1.96},{"x":28,"y":220,"v":-2.14},{"x":32,"y":220,"v":-2.31},{"x":36,"y":220,"v":-2.47},{"x":40,"y":220,"v":-2.63},{"x":44,"y":220,"v":-2.8},{"x":48,"y":220,"v":-2.96},{"x":52,"y":220,"v":-3.14},{"x":56,"y":220,"v":-3.32},{"x":60,"y":220,"v":-3.5},
{"x":8,"y":230,"v":-0.65},{"x":12,"y":230,"v":-1.01},{"x":16,"y":230,"v":-1.27},{"x":20,"y":230,"v":-1.53},{"x":24,"y":230,"v":-1.79},{"x":28,"y":230,"v":-2.03},{"x":32,"y":230,"v":-2.18},{"x":36,"y":230,"v":-2.33},{"x":40,"y":230,"v":-2.48},{"x":44,"y":230,"v":-2.63},{"x":48,"y":230,"v":-2.78},{"x":52,"y":230,"v":-2.93},{"x":56,"y":230,"v":-3.07},{"x":60,"y":230,"v":-3.3},
{"x":8,"y":240,"v":-0.6},{"x":12,"y":240,"v":-0.95},{"x":16,"y":240,"v":-1.21},{"x":20,"y":240,"v":-1.46},{"x":24,"y":240,"v":-1.72},{"x":28,"y":240,"v":-1.97},{"x":32,"y":240,"v":-2.12},{"x":36,"y":240,"v":-2.25},{"x":40,"y":240,"v":-2.39},{"x":44,"y":240,"v":-2.52},{"x":48,"y":240,"v":-2.66},{"x":52,"y":240,"v":-2.8},{"x":56,"y":240,"v":-2.93},{"x":60,"y":240,"v":-3.05},
{"x":8,"y":250,"v":-0.55},{"x":12,"y":250,"v":-0.9},{"x":16,"y":250,"v":-1.14},{"x":20,"y":250,"v":-1.38},{"x":24,"y":250,"v":-1.62},{"x":28,"y":250,"v":-1.87},{"x":32,"y":250,"v":-2.06},{"x":36,"y":250,"v":-2.19},{"x":40,"y":250,"v":-2.31},{"x":44,"y":250,"v":-2.44},{"x":48,"y":250,"v":-2.56},{"x":52,"y":250,"v":-2.69},{"x":56,"y":250,"v":-2.81},{"x":60,"y":250,"v":-2.9}
],
"la":[
{"c":"a0t","lvl":0,"x":14.2,"y":0},{"c":"a0t","lvl":0,"x":14.0,"y":10},{"c":"a0t","lvl":0,"x":13.7,"y":14.7},{"c":"a0t","lvl":0,"x":12.5,"y":20},{"c":"a0t","lvl":0,"x":11.1,"y":26.5},{"c":"a0t","lvl":0,"x":9.9,"y":30},{"c":"a0t","lvl":0,"x":8.4,"y":34.5},{"c":"a0t","lvl":0,"x":7.6,"y":42},{"c":"a0t","lvl":0,"x":7,"y":51},
{"c":"a0b","lvl":0,"x":7,"y":183},{"c":"a0b","lvl":0,"x":7.4,"y":201},{"c":"a0b","lvl":0,"x":7.9,"y":212},{"c":"a0b","lvl":0,"x":8.2,"y":220},{"c":"a0b","lvl":0,"x":8.7,"y":238.5},{"c":"a0b","lvl":0,"x":9.3,"y":244},{"c":"a0b","lvl":0,"x":10.3,"y":250},
{"c":"a1","lvl":1,"x":10.2,"y":0},{"c":"a1","lvl":1,"x":10,"y":8.7},{"c":"a1","lvl":1,"x":8.5,"y":13},{"c":"a1","lvl":1,"x":7.3,"y":17.6},{"c":"a1","lvl":1,"x":7,"y":19},
{"c":"am1","lvl":-1,"x":17.4,"y":0},{"c":"am1","lvl":-1,"x":17,"y":10},{"c":"am1","lvl":-1,"x":15.5,"y":20},{"c":"am1","lvl":-1,"x":14.3,"y":30},{"c":"am1","lvl":-1,"x":13.4,"y":40},{"c":"am1","lvl":-1,"x":13.2,"y":50},{"c":"am1","lvl":-1,"x":13.5,"y":57},{"c":"am1","lvl":-1,"x":14.8,"y":68},{"c":"am1","lvl":-1,"x":17,"y":80},{"c":"am1","lvl":-1,"x":19.0,"y":92},{"c":"am1","lvl":-1,"x":20.1,"y":113.6},{"c":"am1","lvl":-1,"x":19.0,"y":129.5},{"c":"am1","lvl":-1,"x":18.9,"y":149},{"c":"am1","lvl":-1,"x":19.8,"y":170},{"c":"am1","lvl":-1,"x":20.3,"y":181},{"c":"am1","lvl":-1,"x":23,"y":190},{"c":"am1","lvl":-1,"x":25.8,"y":200},{"c":"am1","lvl":-1,"x":30.1,"y":214.7},{"c":"am1","lvl":-1,"x":39.3,"y":230},{"c":"am1","lvl":-1,"x":45.3,"y":240},{"c":"am1","lvl":-1,"x":51,"y":250},
{"c":"am2","lvl":-2,"x":20.5,"y":0},{"c":"am2","lvl":-2,"x":20,"y":10},{"c":"am2","lvl":-2,"x":19.3,"y":20},{"c":"am2","lvl":-2,"x":18.4,"y":30},{"c":"am2","lvl":-2,"x":18.0,"y":34.5},{"c":"am2","lvl":-2,"x":18.2,"y":44},{"c":"am2","lvl":-2,"x":18.5,"y":54.3},{"c":"am2","lvl":-2,"x":21.1,"y":64},{"c":"am2","lvl":-2,"x":24,"y":70},{"c":"am2","lvl":-2,"x":28.5,"y":80},{"c":"am2","lvl":-2,"x":34.9,"y":94},{"c":"am2","lvl":-2,"x":38.6,"y":111.7},{"c":"am2","lvl":-2,"x":39.6,"y":129.5},{"c":"am2","lvl":-2,"x":41.5,"y":149},{"c":"am2","lvl":-2,"x":43.5,"y":160},{"c":"am2","lvl":-2,"x":47,"y":173},{"c":"am2","lvl":-2,"x":50,"y":180},{"c":"am2","lvl":-2,"x":56,"y":190},{"c":"am2","lvl":-2,"x":60,"y":196},
{"c":"am3","lvl":-3,"x":25.1,"y":0},{"c":"am3","lvl":-3,"x":24.8,"y":14.7},{"c":"am3","lvl":-3,"x":24,"y":30},{"c":"am3","lvl":-3,"x":23.8,"y":34.5},{"c":"am3","lvl":-3,"x":25.3,"y":48.3},{"c":"am3","lvl":-3,"x":28.5,"y":55},{"c":"am3","lvl":-3,"x":34.9,"y":66},{"c":"am3","lvl":-3,"x":37.5,"y":70},{"c":"am3","lvl":-3,"x":44.4,"y":80},{"c":"am3","lvl":-3,"x":50,"y":88},{"c":"am3","lvl":-3,"x":60,"y":101.8},
{"c":"am4","lvl":-4,"x":29.6,"y":0},{"c":"am4","lvl":-4,"x":29.3,"y":14.7},{"c":"am4","lvl":-4,"x":30,"y":34.5},{"c":"am4","lvl":-4,"x":31.7,"y":42.4},{"c":"am4","lvl":-4,"x":37.8,"y":50},{"c":"am4","lvl":-4,"x":44.4,"y":58.2},{"c":"am4","lvl":-4,"x":50,"y":62},{"c":"am4","lvl":-4,"x":60,"y":69},
{"c":"am5","lvl":-5,"x":37.7,"y":0},{"c":"am5","lvl":-5,"x":37.8,"y":14.7},{"c":"am5","lvl":-5,"x":39.1,"y":26.5},{"c":"am5","lvl":-5,"x":41.5,"y":30},{"c":"am5","lvl":-5,"x":49.7,"y":40.5},{"c":"am5","lvl":-5,"x":57,"y":50},{"c":"am5","lvl":-5,"x":60,"y":52.3},
{"c":"am6","lvl":-6,"x":47.3,"y":0},{"c":"am6","lvl":-6,"x":48.5,"y":10},{"c":"am6","lvl":-6,"x":49.7,"y":14.7},{"c":"am6","lvl":-6,"x":52,"y":20},{"c":"am6","lvl":-6,"x":57,"y":30},{"c":"am6","lvl":-6,"x":60,"y":35.5}
],
"lb":[
{"c":"b4","lvl":4,"x":11.7,"y":0},{"c":"b4","lvl":4,"x":12,"y":3.8},{"c":"b4","lvl":4,"x":15.1,"y":8.7},{"c":"b4","lvl":4,"x":19.9,"y":5.8},{"c":"b4","lvl":4,"x":21.5,"y":1.8},{"c":"b4","lvl":4,"x":22,"y":0},
{"c":"b3","lvl":3,"x":7.7,"y":0},{"c":"b3","lvl":3,"x":8.2,"y":7.7},{"c":"b3","lvl":3,"x":9.8,"y":18.6},{"c":"b3","lvl":3,"x":15.1,"y":24.5},{"c":"b3","lvl":3,"x":29.4,"y":25.5},{"c":"b3","lvl":3,"x":42.5,"y":25.3},{"c":"b3","lvl":3,"x":60,"y":23.6},
{"c":"b2","lvl":2,"x":7,"y":22},{"c":"b2","lvl":2,"x":7.2,"y":22.6},{"c":"b2","lvl":2,"x":10.9,"y":34.5},{"c":"b2","lvl":2,"x":16.2,"y":39.4},{"c":"b2","lvl":2,"x":24.1,"y":48.3},{"c":"b2","lvl":2,"x":32,"y":58.2},{"c":"b2","lvl":2,"x":44.7,"y":78},{"c":"b2","lvl":2,"x":55.8,"y":92},{"c":"b2","lvl":2,"x":60,"y":102.8},
{"c":"b1","lvl":1,"x":7,"y":43},{"c":"b1","lvl":1,"x":7.2,"y":44.4},{"c":"b1","lvl":1,"x":9.8,"y":62.2},{"c":"b1","lvl":1,"x":13.5,"y":78},{"c":"b1","lvl":1,"x":16.2,"y":95.8},{"c":"b1","lvl":1,"x":17.5,"y":117.6},{"c":"b1","lvl":1,"x":17.0,"y":129.5},{"c":"b1","lvl":1,"x":16.8,"y":153},{"c":"b1","lvl":1,"x":15.1,"y":181},{"c":"b1","lvl":1,"x":14.7,"y":199},{"c":"b1","lvl":1,"x":15.0,"y":224.6},{"c":"b1","lvl":1,"x":16.6,"y":250}
],
"lc":[
{"c":"c1","lvl":-1,"x":7,"y":35},{"c":"c1","lvl":-1,"x":7.3,"y":50},{"c":"c1","lvl":-1,"x":8.3,"y":74},{"c":"c1","lvl":-1,"x":9.6,"y":94},{"c":"c1","lvl":-1,"x":10.2,"y":110},{"c":"c1","lvl":-1,"x":9.9,"y":125},{"c":"c1","lvl":-1,"x":9.6,"y":179},{"c":"c1","lvl":-1,"x":10.1,"y":200},{"c":"c1","lvl":-1,"x":10.6,"y":219},{"c":"c1","lvl":-1,"x":11.8,"y":230},{"c":"c1","lvl":-1,"x":13.8,"y":250},
{"c":"c2","lvl":-2,"x":8.4,"y":0},{"c":"c2","lvl":-2,"x":9.2,"y":10},{"c":"c2","lvl":-2,"x":10,"y":20},{"c":"c2","lvl":-2,"x":10.8,"y":30},{"c":"c2","lvl":-2,"x":11.2,"y":40},{"c":"c2","lvl":-2,"x":11.5,"y":50},{"c":"c2","lvl":-2,"x":12.5,"y":60},{"c":"c2","lvl":-2,"x":13.8,"y":70},{"c":"c2","lvl":-2,"x":15.5,"y":80},{"c":"c2","lvl":-2,"x":17.5,"y":90},{"c":"c2","lvl":-2,"x":18.5,"y":100},{"c":"c2","lvl":-2,"x":19.3,"y":110},{"c":"c2","lvl":-2,"x":18.7,"y":133},{"c":"c2","lvl":-2,"x":18.4,"y":160},{"c":"c2","lvl":-2,"x":18.2,"y":175},{"c":"c2","lvl":-2,"x":19,"y":190},{"c":"c2","lvl":-2,"x":20.2,"y":203},{"c":"c2","lvl":-2,"x":24.5,"y":220},{"c":"c2","lvl":-2,"x":26.5,"y":232},{"c":"c2","lvl":-2,"x":30.2,"y":250},
{"c":"c3","lvl":-3,"x":10.6,"y":0},{"c":"c3","lvl":-3,"x":12.5,"y":10},{"c":"c3","lvl":-3,"x":13.8,"y":20},{"c":"c3","lvl":-3,"x":15.8,"y":30},{"c":"c3","lvl":-3,"x":17.2,"y":40},{"c":"c3","lvl":-3,"x":18.5,"y":50},{"c":"c3","lvl":-3,"x":20.4,"y":60},{"c":"c3","lvl":-3,"x":22.8,"y":70},{"c":"c3","lvl":-3,"x":25,"y":80},{"c":"c3","lvl":-3,"x":27,"y":90},{"c":"c3","lvl":-3,"x":28.3,"y":100},{"c":"c3","lvl":-3,"x":30,"y":110},{"c":"c3","lvl":-3,"x":30.7,"y":130},{"c":"c3","lvl":-3,"x":31.3,"y":150},{"c":"c3","lvl":-3,"x":31.9,"y":170},{"c":"c3","lvl":-3,"x":33,"y":180},{"c":"c3","lvl":-3,"x":36,"y":190},{"c":"c3","lvl":-3,"x":39.5,"y":200},{"c":"c3","lvl":-3,"x":44,"y":210},{"c":"c3","lvl":-3,"x":49,"y":220},{"c":"c3","lvl":-3,"x":54,"y":230},{"c":"c3","lvl":-3,"x":60,"y":244},
{"c":"c4","lvl":-4,"x":13.8,"y":0},{"c":"c4","lvl":-4,"x":15.8,"y":10},{"c":"c4","lvl":-4,"x":17.5,"y":20},{"c":"c4","lvl":-4,"x":18.7,"y":30},{"c":"c4","lvl":-4,"x":20.8,"y":40},{"c":"c4","lvl":-4,"x":24.5,"y":50},{"c":"c4","lvl":-4,"x":27.8,"y":60},{"c":"c4","lvl":-4,"x":31.3,"y":70},{"c":"c4","lvl":-4,"x":34.2,"y":80},{"c":"c4","lvl":-4,"x":39.5,"y":90},{"c":"c4","lvl":-4,"x":41.8,"y":100},{"c":"c4","lvl":-4,"x":44.5,"y":110},{"c":"c4","lvl":-4,"x":47.8,"y":130},{"c":"c4","lvl":-4,"x":49.5,"y":150},{"c":"c4","lvl":-4,"x":53,"y":170},{"c":"c4","lvl":-4,"x":56,"y":180},{"c":"c4","lvl":-4,"x":60,"y":187},
{"c":"c5","lvl":-5,"x":17.3,"y":0},{"c":"c5","lvl":-5,"x":18.6,"y":10},{"c":"c5","lvl":-5,"x":19.7,"y":20},{"c":"c5","lvl":-5,"x":21.7,"y":30},{"c":"c5","lvl":-5,"x":25,"y":40},{"c":"c5","lvl":-5,"x":28.5,"y":50},{"c":"c5","lvl":-5,"x":32.3,"y":60},{"c":"c5","lvl":-5,"x":38.5,"y":70},{"c":"c5","lvl":-5,"x":48.2,"y":80},{"c":"c5","lvl":-5,"x":56,"y":90},{"c":"c5","lvl":-5,"x":60,"y":96},
{"c":"c6","lvl":-6,"x":20.4,"y":0},{"c":"c6","lvl":-6,"x":21.3,"y":10},{"c":"c6","lvl":-6,"x":22.5,"y":20},{"c":"c6","lvl":-6,"x":26,"y":30},{"c":"c6","lvl":-6,"x":30,"y":40},{"c":"c6","lvl":-6,"x":36.1,"y":50},{"c":"c6","lvl":-6,"x":47,"y":60},{"c":"c6","lvl":-6,"x":57,"y":70},{"c":"c6","lvl":-6,"x":60,"y":74},
{"c":"c7","lvl":-7,"x":25.7,"y":0},{"c":"c7","lvl":-7,"x":26.7,"y":10},{"c":"c7","lvl":-7,"x":28.5,"y":20},{"c":"c7","lvl":-7,"x":31.5,"y":30},{"c":"c7","lvl":-7,"x":40,"y":40},{"c":"c7","lvl":-7,"x":50,"y":50},{"c":"c7","lvl":-7,"x":60,"y":59},
{"c":"c8","lvl":-8,"x":31.8,"y":0},{"c":"c8","lvl":-8,"x":34.1,"y":10},{"c":"c8","lvl":-8,"x":38.8,"y":20},{"c":"c8","lvl":-8,"x":46,"y":30},{"c":"c8","lvl":-8,"x":53,"y":40},{"c":"c8","lvl":-8,"x":60,"y":46},
{"c":"c9","lvl":-9,"x":42.5,"y":0},{"c":"c9","lvl":-9,"x":43.8,"y":10},{"c":"c9","lvl":-9,"x":50,"y":20},{"c":"c9","lvl":-9,"x":60,"y":30.5},
{"c":"c10","lvl":-10,"x":59.3,"y":0},{"c":"c10","lvl":-10,"x":59.7,"y":2},{"c":"c10","lvl":-10,"x":60,"y":3}
],
"cb":[{"v":-9.8},{"v":-9.4},{"v":-9.0},{"v":-8.6},{"v":-8.2},{"v":-7.8},{"v":-7.4},{"v":-7.0},{"v":-6.6},{"v":-6.2},{"v":-5.8},{"v":-5.4},{"v":-5.0},{"v":-4.6},{"v":-4.2},{"v":-3.8},{"v":-3.4},{"v":-3.0},{"v":-2.6},{"v":-2.2},{"v":-1.8},{"v":-1.4},{"v":-1.0},{"v":-0.6},{"v":-0.2},{"v":0.2},{"v":0.6},{"v":1.0},{"v":1.4},{"v":1.8},{"v":2.2},{"v":2.6},{"v":3.0},{"v":3.4},{"v":3.8},{"v":4.2},{"v":4.6},{"v":5.0},{"v":5.4},{"v":5.8},{"v":6.2},{"v":6.6},{"v":7.0},{"v":7.4},{"v":7.8},{"v":8.2},{"v":8.6},{"v":9.0},{"v":9.4},{"v":9.8}],
"tri":[{"t":"up","v":10.5},{"t":"down","v":-10.5}],
"lbl":[{"t":"Mixed Layer Depth"}]
},
"hconcat":[
{
 "width":334.5,"height":420.7,
 "title":{"text":"a) Total","offset":-6},
 "layer":[
  {"data":{"name":"a"},"mark":{"type":"rect","width":25.8,"height":17.4,"clip":true},
   "encoding":{
    "x":{"field":"x","type":"quantitative","scale":{"domain":[7,60],"nice":false,"zero":false},"axis":{"values":[10,20,30,40,50,60],"title":"Scale in km"}},
    "y":{"field":"y","type":"quantitative","scale":{"domain":[0,250],"reverse":true,"nice":false,"zero":false},"axis":{"values":[0,50,100,150,200,250],"title":"Depth in m","titlePadding":6}},
    "color":{"field":"v","type":"quantitative","scale":{"domain":[-10,-5,0,5,10],"range":["#00004c","#0000ff","#ffffff","#ff0000","#800000"],"interpolate":"rgb","clamp":true},"legend":null}}},
  {"data":{"name":"la"},"mark":{"type":"line","clip":true,"color":"black"},
   "encoding":{
    "x":{"field":"x","type":"quantitative"},
    "y":{"field":"y","type":"quantitative"},
    "detail":{"field":"c","type":"nominal"},
    "order":{"value":null},
    "strokeDash":{"condition":{"test":"datum.lvl < 0","value":[7,4]},"value":[1,0]},
    "strokeWidth":{"condition":[{"test":"datum.lvl == 0","value":4.5},{"test":"datum.lvl == 1","value":1.6}],"value":2.4}}},
  {"mark":{"type":"rule","color":"black","strokeWidth":5},"encoding":{"y":{"datum":94}}}
 ]
},
{
 "width":334.5,"height":420.7,
 "title":{"text":"b) Downscale"},
 "layer":[
  {"data":{"name":"b"},"mark":{"type":"rect","width":25.8,"height":17.4,"clip":true},
   "encoding":{
    "x":{"field":"x","type":"quantitative","scale":{"domain":[7,60],"nice":false,"zero":false},"axis":{"values":[10,20,30,40,50,60],"title":"Scale in km"}},
    "y":{"field":"y","type":"quantitative","scale":{"domain":[0,250],"reverse":true,"nice":false,"zero":false},"axis":null},
    "color":{"field":"v","type":"quantitative","scale":{"domain":[-10,-5,0,5,10],"range":["#00004c","#0000ff","#ffffff","#ff0000","#800000"],"interpolate":"rgb","clamp":true},"legend":null}}},
  {"data":{"name":"lb"},"mark":{"type":"line","clip":true,"color":"black","strokeWidth":2.4},
   "encoding":{
    "x":{"field":"x","type":"quantitative"},
    "y":{"field":"y","type":"quantitative"},
    "detail":{"field":"c","type":"nominal"},
    "order":{"value":null}}},
  {"mark":{"type":"rule","color":"black","strokeWidth":5},"encoding":{"y":{"datum":94}}}
 ]
},
{
 "width":334.5,"height":420.7,
 "title":{"text":"c) Upscale"},
 "layer":[
  {"data":{"name":"c"},"mark":{"type":"rect","width":25.8,"height":17.4,"clip":true},
   "encoding":{
    "x":{"field":"x","type":"quantitative","scale":{"domain":[7,60],"nice":false,"zero":false},"axis":{"values":[10,20,30,40,50,60],"title":"Scale in km"}},
    "y":{"field":"y","type":"quantitative","scale":{"domain":[0,250],"reverse":true,"nice":false,"zero":false},"axis":null},
    "color":{"field":"v","type":"quantitative","scale":{"domain":[-10,-5,0,5,10],"range":["#00004c","#0000ff","#ffffff","#ff0000","#800000"],"interpolate":"rgb","clamp":true},"legend":null}}},
  {"data":{"name":"lc"},"mark":{"type":"line","clip":true,"color":"black","strokeWidth":2.6,"strokeDash":[7,4]},
   "encoding":{
    "x":{"field":"x","type":"quantitative"},
    "y":{"field":"y","type":"quantitative"},
    "detail":{"field":"c","type":"nominal"},
    "order":{"value":null}}},
  {"mark":{"type":"rule","color":"black","strokeWidth":5},"encoding":{"y":{"datum":94}}},
  {"data":{"name":"lbl"},"mark":{"type":"text","color":"white","fontSize":22,"font":"DejaVu Sans","align":"center","baseline":"middle"},
   "encoding":{"x":{"datum":37.3},"y":{"datum":105},"text":{"field":"t","type":"nominal"}}}
 ]
},
{
 "width":20,"height":420.7,
 "view":{"stroke":null},
 "layer":[
  {"data":{"name":"cb"},"mark":{"type":"rect","height":8},
   "encoding":{
    "y":{"field":"v","type":"quantitative","scale":{"domain":[-10.96,10.96],"nice":false,"zero":false},
      "axis":{"orient":"right","values":[-10,-8,-6,-4,-2,0,2,4,6,8,10],"labelExpr":"'' + datum.value","title":"Scale Kinetic Energy Flux in mW/m²/km","titleAngle":270,"titleBaseline":"top","titlePadding":8,"tickSize":6,"labelPadding":4}},
    "color":{"field":"v","type":"quantitative","scale":{"domain":[-10,-5,0,5,10],"range":["#00004c","#0000ff","#ffffff","#ff0000","#800000"],"interpolate":"rgb","clamp":true},"legend":null}}},
  {"data":{"name":"tri"},"mark":{"type":"point","filled":true,"size":400,"stroke":"black","strokeWidth":1,"opacity":1},
   "encoding":{
    "y":{"field":"v","type":"quantitative"},
    "shape":{"field":"t","type":"nominal","scale":{"domain":["up","down"],"range":["M-1,1L1,1L0,-1Z","M-1,-1L1,-1L0,1Z"]},"legend":null},
    "color":{"field":"v","type":"quantitative","scale":{"domain":[-10,-5,0,5,10],"range":["#00004c","#0000ff","#ffffff","#ff0000","#800000"],"interpolate":"rgb","clamp":true},"legend":null}}},
  {"mark":{"type":"rect","fill":null,"fillOpacity":0,"stroke":"black","strokeWidth":1},"encoding":{"y":{"datum":-10},"y2":{"datum":10}}}
 ]
}
]
}
